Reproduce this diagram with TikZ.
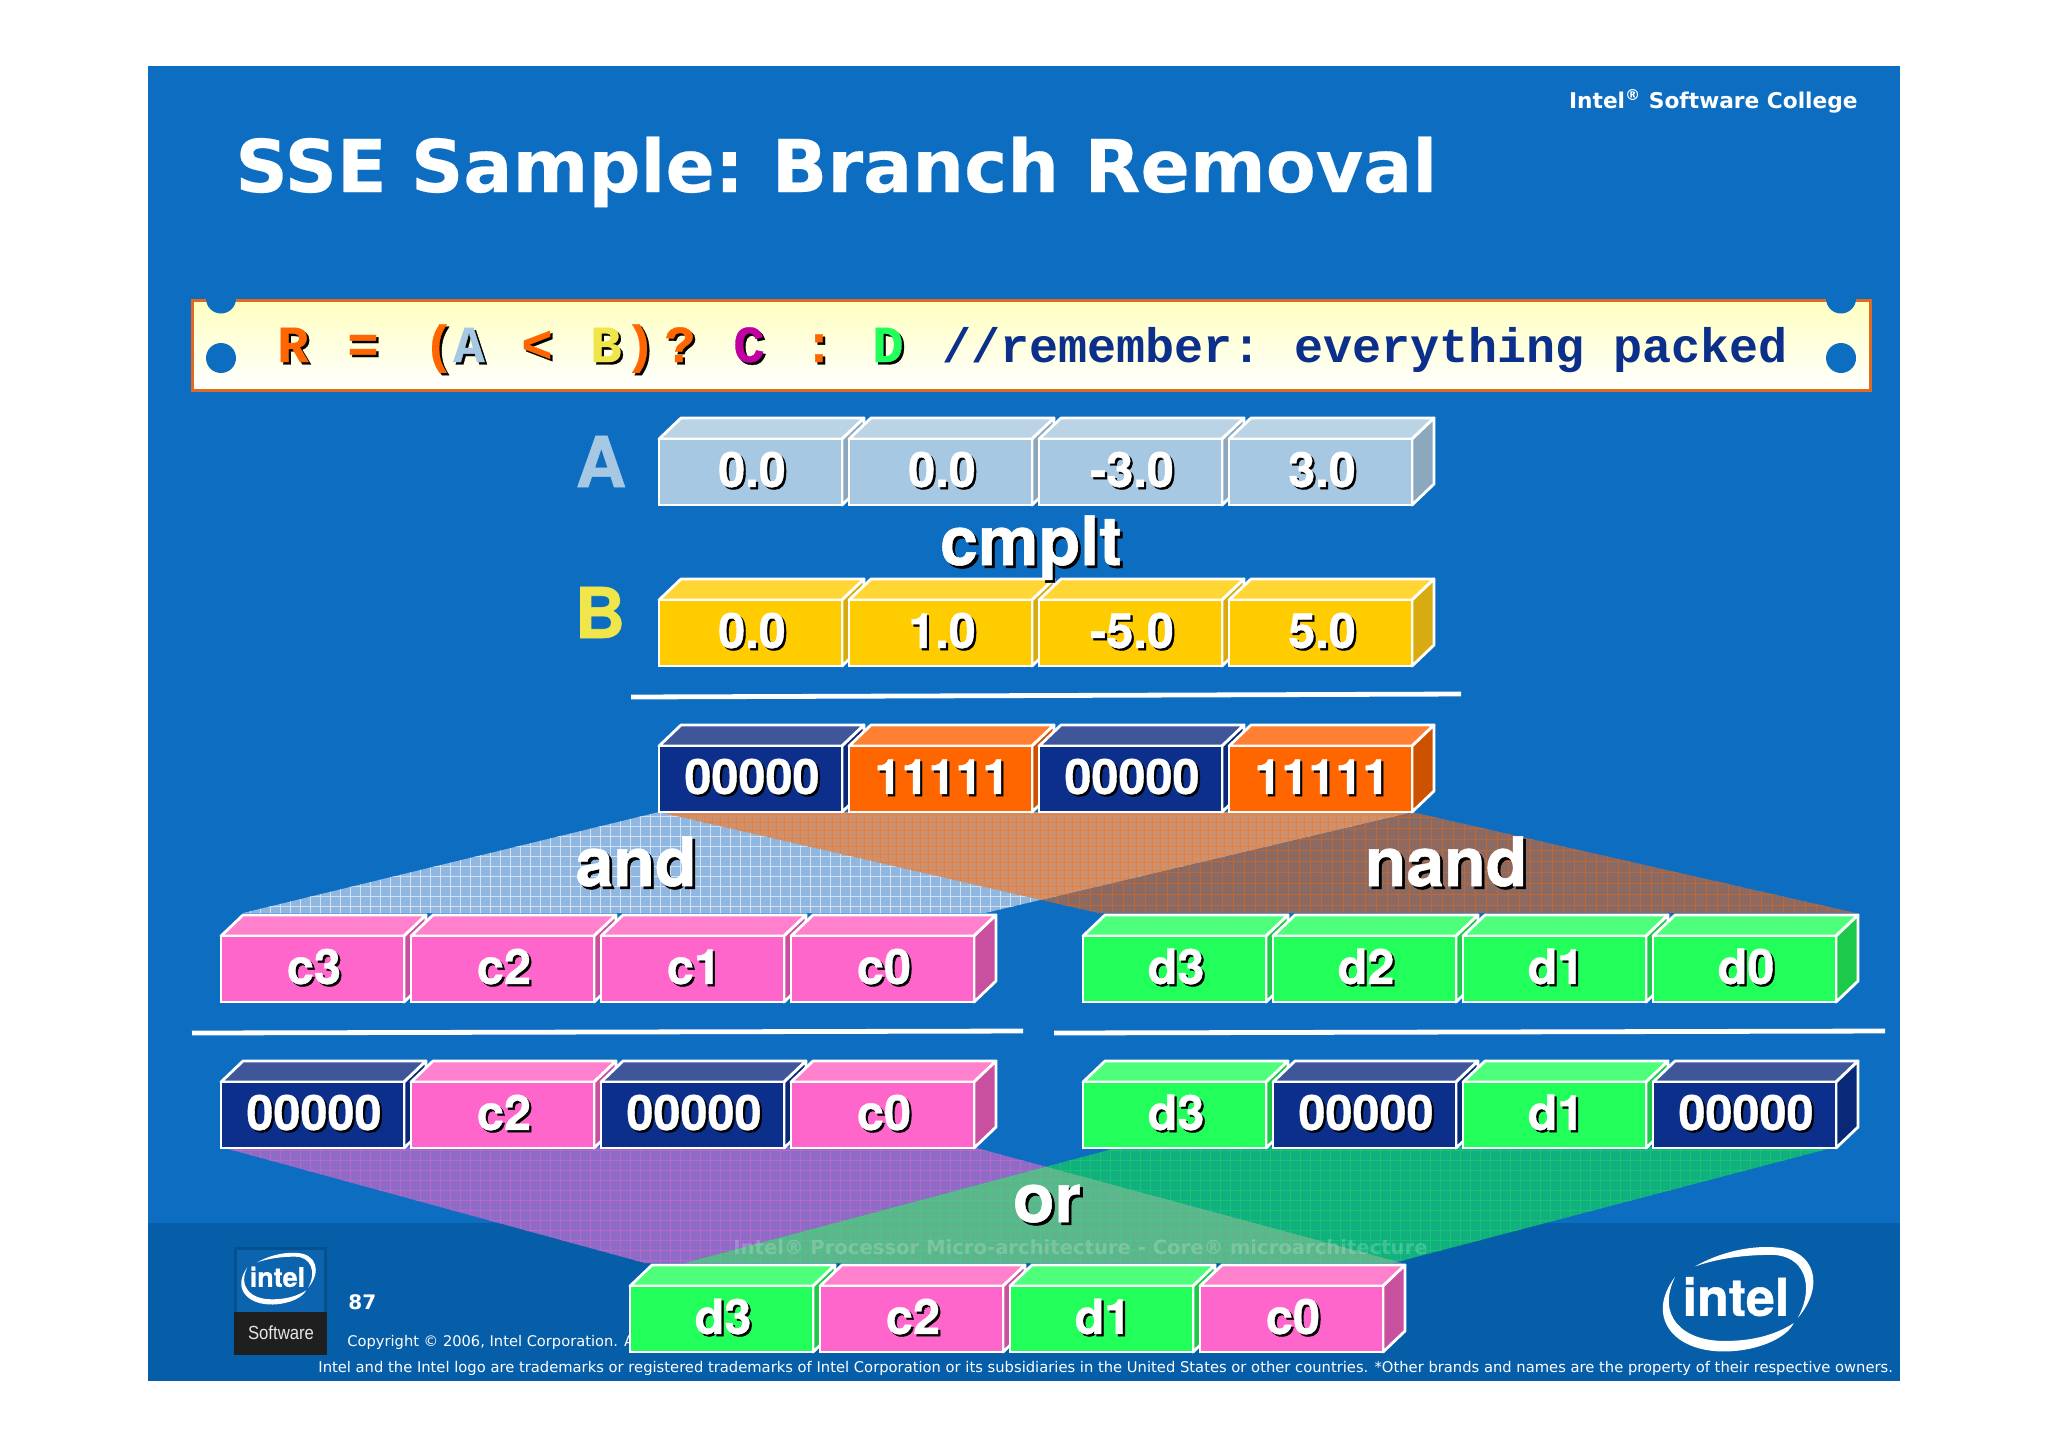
\documentclass[tikz,border=0pt]{standalone}
\usepackage{fontspec}
\setmainfont{DejaVu Sans}
\newfontfamily\lblfont[BoldFeatures={FakeBold=0.8}]{TeX Gyre Heros}
\newfontfamily\monofont{Liberation Mono Bold}
\newfontfamily\monofat[FakeBold=0.6]{Liberation Mono Bold}
\newfontfamily\titlefont[FakeBold=0.3]{DejaVu Sans Bold}
\newfontfamily\plainarial{Liberation Sans}
\definecolor{slidebg}{HTML}{0D6EC1}
\definecolor{footbg}{HTML}{065EA8}
\definecolor{bluecF}{HTML}{A6C8E2}\definecolor{bluecT}{HTML}{BAD4E6}\definecolor{bluecS}{HTML}{8CA8BF}
\definecolor{yellowcF}{HTML}{FFCC00}\definecolor{yellowcT}{HTML}{FFD633}\definecolor{yellowcS}{HTML}{D8AC10}
\definecolor{navycF}{HTML}{0B2F8A}\definecolor{navycT}{HTML}{3F569B}\definecolor{navycS}{HTML}{0A2878}
\definecolor{orangecF}{HTML}{FF6600}\definecolor{orangecT}{HTML}{FF7F33}\definecolor{orangecS}{HTML}{CC5200}
\definecolor{pinkcF}{HTML}{FF66CC}\definecolor{pinkcT}{HTML}{FF80CC}\definecolor{pinkcS}{HTML}{C9509E}
\definecolor{greencF}{HTML}{22FF5A}\definecolor{greencT}{HTML}{4DFF7A}\definecolor{greencS}{HTML}{1CC94A}
\definecolor{barline}{HTML}{E06A20}
\definecolor{barorange}{HTML}{FF6600}
\definecolor{barmag}{HTML}{C000A0}
\definecolor{barB}{HTML}{F0E64A}
\definecolor{bluepoly}{HTML}{8FB7DF}
\definecolor{brownpoly}{HTML}{8A6A62}
\definecolor{salmonpoly}{HTML}{D0906C}
\definecolor{purplepoly}{HTML}{8E6BC6}
\definecolor{greenpoly}{HTML}{12B07E}
\definecolor{graygreen}{HTML}{5CB58C}
\newcommand\shad[2][1.1pt]{\makebox[0pt][l]{\kern#1\raisebox{-#1}{\color{black}#2}}#2}
\newcommand\cell[5]{%
  \filldraw[cellline,fill=#4T] (#2,#3) -- ++(22,-21) -- ++(183,0) -- ++(-22,21) -- cycle;
  \filldraw[cellline,fill=#4S] (#2,#3) ++(183,0) -- ++(22,-21) -- ++(0,66) -- ++(-22,21) -- cycle;
  \node[cellface,fill=#4F] (#1) at ({#2+91.5},{#3+33}) {\kern1.5pt\shad{#5}};
}
\newcommand\barch[4]{\node[barchar] (#1) at (#2,362) {\color{#3}\shad[1.2pt]{#4}};}
\newcommand\gridlines[6]{% x0 x1 y0 y1 step style
  \draw[#6] foreach \gi in {#1,\the\numexpr#1+#5\relax,...,#2} {(\gi,#3) -- (\gi,#4)};
  \draw[#6] foreach \gi in {#3,\the\numexpr#3+#5\relax,...,#4} {(#1,\gi) -- (#2,\gi)};
}
\newcommand\intelswoosh[3]{%
  \begin{scope}[#2]
    \fill[white] (1678,1278) .. controls (1650,1315) and (1675,1350) .. (1727,1349) .. controls (1760,1348) and (1785,1335) .. (1791,1322) .. controls (1775,1332) and (1755,1339) .. (1725,1339) .. controls (1685,1339) and (1660,1315) .. (1678,1278) -- cycle;
    \fill[white] (1697,1268) .. controls (1725,1252) and (1755,1248) .. (1775,1250) .. controls (1810,1252) and (1822,1285) .. (1795,1317) .. controls (1812,1285) and (1800,1257) .. (1770,1257) .. controls (1745,1257) and (1720,1260) .. (1697,1268) -- cycle;
    \node[anchor=base,text=white,inner sep=0pt,font=\fontsize{#3}{#3}\selectfont\lblfont\bfseries] (logo#1) at (1736,1315) {intel};
  \end{scope}}
\tikzset{
  cellline/.style={draw=white,line width=1.4pt,line join=round},
  cellface/.style={draw=white,line width=1.4pt,minimum width=91.5pt,minimum height=33pt,inner sep=0pt,
    text=white,text height=17.5pt,text depth=2.6pt,font=\fontsize{24.3}{24.3}\selectfont\lblfont\bfseries},
  oplabel/.style={anchor=base,inner sep=0pt,text=white,font=\fontsize{34}{34}\selectfont\lblfont\bfseries},
  barchar/.style={anchor=base,inner sep=0pt,font=\fontsize{26}{26}\selectfont\monofat},
  rulebar/.style={draw=white,line width=2.4pt},
  gridl/.style={line width=0.45pt}
}
\begin{document}
\begin{tikzpicture}[x=0.5pt,y=-0.5pt]
\useasboundingbox (0,0) rectangle (2048,1447);
\fill[white] (0,0) rectangle (2048,1447);
% slide
\fill[slidebg] (148,66) rectangle (1900,1381);
\fill[footbg] (148,1223) rectangle (1900,1381);
\node[anchor=base west,inner sep=0pt,text=white,font=\fontsize{7.33}{7.33}\selectfont] (copy) at (347,1346) {Copyright © 2006, Intel Corporation. All rights reserved.};
% title
\node[anchor=base west,inner sep=0pt,text=white,font=\fontsize{36.4}{36.4}\selectfont\titlefont] (title) at (235,192) {SSE\hspace{-0.5pt} Sample:\hspace{-3pt} Branch Removal};
\node[anchor=base east,inner sep=0pt,text=white,font=\fontsize{10.85}{10.85}\selectfont\bfseries] (college) at (1858,108) {Intel\textsuperscript{®} Software College};
% banner
\filldraw[draw=barline,line width=1.5pt,top color=yellow!25!white,bottom color=white] (192,300) rectangle (1870,390);
\fill[slidebg] (221,358) circle (15);
\fill[slidebg] (1841,358) circle (15);
\fill[slidebg] (206,298.5) arc[start angle=180,end angle=0,radius=15] -- cycle;
\fill[slidebg] (1826,298.5) arc[start angle=180,end angle=0,radius=15] -- cycle;
\barch{bR}{293}{barorange}{R}
\barch{bEq}{363}{barorange}{=}
\barch{bLp}{439}{barorange}{(}
\barch{bA}{469}{bluecF}{A}
\barch{bLt}{537}{barorange}{<}
\barch{bB}{606}{barB}{B}
\barch{bRp}{640}{barorange}{)}
\barch{bQ}{680}{barorange}{?}
\barch{bC}{749}{barmag}{C}
\barch{bCo}{819}{barorange}{:}
\barch{bD}{888}{greencF}{D}
\node[anchor=base west,inner sep=0pt,text=navycF,font=\fontsize{24.2}{24.2}\selectfont\monofont] (comment) at (942,362) {//remember:\hspace{-3.2pt} everything packed};
% A B
\node[anchor=base,inner sep=0pt,text=bluecF,font=\fontsize{35}{35}\selectfont\lblfont\bfseries] (labA) at (601,487) {A};
\node[anchor=base,inner sep=0pt,text=barB,font=\fontsize{35}{35}\selectfont\lblfont\bfseries] (labB) at (600,638) {B};
% polygons and / nand
\fill[brownpoly] (659,812) -- (1412,812) -- (1856,913) -- (1098,913) -- cycle;
\begin{scope}
\clip (659,812) -- (1412,812) -- (1856,913) -- (1098,913) -- cycle;
\gridlines{650}{1870}{806}{920}{11}{gridl,draw=orangecF!45!brownpoly}
\end{scope}
\fill[bluepoly] (659,812) -- (1412,812) -- (985,913) -- (243,913) -- cycle;
\begin{scope}
\clip (659,812) -- (1412,812) -- (985,913) -- (243,913) -- cycle;
\gridlines{240}{1420}{806}{920}{10}{gridl,draw=white!60!bluepoly}
\clip (659,812) -- (1412,812) -- (1856,913) -- (1098,913) -- cycle;
\fill[salmonpoly] (240,806) rectangle (1420,920);
\gridlines{240}{1420}{806}{920}{8}{gridl,draw=orangecF!35!salmonpoly}
\end{scope}
% polygons or
\fill[purplepoly] (221,1147) -- (973,1147) -- (1402,1263) -- (645,1263) -- cycle;
\begin{scope}
\clip (221,1147) -- (973,1147) -- (1402,1263) -- (645,1263) -- cycle;
\gridlines{210}{1410}{1140}{1270}{10}{gridl,draw=pinkcF!35!purplepoly}
\end{scope}
\fill[greenpoly] (1120,1147) -- (1835,1147) -- (1393,1263) -- (685,1263) -- cycle;
\begin{scope}
\clip (1120,1147) -- (1835,1147) -- (1393,1263) -- (685,1263) -- cycle;
\gridlines{680}{1850}{1140}{1270}{10}{gridl,draw=greencF!25!greenpoly}
\clip (221,1147) -- (973,1147) -- (1402,1263) -- (645,1263) -- cycle;
\fill[graygreen] (680,1140) rectangle (1850,1270);
\gridlines{680}{1850}{1140}{1270}{10}{gridl,draw=greencF!20!graygreen}
\end{scope}
\node[anchor=base west,inner sep=0pt,text=white,text opacity=0.2,font=\fontsize{9.8}{9.8}\selectfont\bfseries] (center) at (733,1254) {Intel® Processor Micro-architecture - Core® microarchitecture};
% rows
\cell{a0}{659}{439}{bluec}{0.0}
\cell{a1}{849}{439}{bluec}{0.0}
\cell{a2}{1039}{439}{bluec}{-3.0}
\cell{a3}{1229}{439}{bluec}{3.0}
\cell{b0}{659}{600}{yellowc}{0.0}
\cell{b1}{849}{600}{yellowc}{1.0}
\cell{b2}{1039}{600}{yellowc}{-5.0}
\cell{b3}{1229}{600}{yellowc}{5.0}
\cell{r0}{659}{746}{navyc}{00000}
\cell{r1}{849}{746}{orangec}{11111}
\cell{r2}{1039}{746}{navyc}{00000}
\cell{r3}{1229}{746}{orangec}{11111}
\cell{c3}{221}{936}{pinkc}{c3}
\cell{c2}{411}{936}{pinkc}{c2}
\cell{c1}{601}{936}{pinkc}{c1}
\cell{c0}{791}{936}{pinkc}{c0}
\cell{d3}{1083}{936}{greenc}{d3}
\cell{d2}{1273}{936}{greenc}{d2}
\cell{d1}{1463}{936}{greenc}{d1}
\cell{d0}{1653}{936}{greenc}{d0}
\cell{m0}{221}{1082}{navyc}{00000}
\cell{m1}{411}{1082}{pinkc}{c2}
\cell{m2}{601}{1082}{navyc}{00000}
\cell{m3}{791}{1082}{pinkc}{c0}
\cell{n0}{1083}{1082}{greenc}{d3}
\cell{n1}{1273}{1082}{navyc}{00000}
\cell{n2}{1463}{1082}{greenc}{d1}
\cell{n3}{1653}{1082}{navyc}{00000}
\cell{f0}{630}{1286}{greenc}{d3}
\cell{f1}{820}{1286}{pinkc}{c2}
\cell{f2}{1010}{1286}{greenc}{d1}
\cell{f3}{1200}{1286}{pinkc}{c0}
% rules
\draw[rulebar] (631,697) -- (1461,694);
\draw[rulebar] (192,1033) -- (1023,1031);
\draw[rulebar] (1054,1033) -- (1885,1031);
% op labels
\node[oplabel] (cmplt) at (1031,565) {\shad[1.4pt]{cmplt}};
\node[oplabel] (andl) at (636,886) {\shad[1.4pt]{and}};
\node[oplabel] (nandl) at (1446,886) {\shad[1.4pt]{nand}};
\node[oplabel] (orl) at (1047,1222) {\shad[1.4pt]{or}};
% footer
\node[anchor=base west,inner sep=0pt,text=white,font=\fontsize{10}{10}\selectfont\bfseries] (pagenum) at (348,1309) {87};
\node[anchor=base west,inner sep=0pt,text=white,font=\fontsize{7.37}{7.37}\selectfont] (tm) at (318,1372) {Intel and the Intel logo are trademarks or registered trademarks of Intel Corporation or its subsidiaries in the United States or other countries. *Other brands and names are the property of their respective owners.};
% logos
\intelswoosh{big}{shift={(-86.9,-65)},scale=1.05}{26}
\fill[footbg!85!black] (234,1247) rectangle (327,1312);
\fill[slidebg!90!black] (237,1250) rectangle (324,1312);
\fill[black!88] (234,1312) rectangle (327,1355);
\intelswoosh{small}{shift={(-625.3,603)},scale=0.52}{13.5}
\node[anchor=base,inner sep=0pt,text=white!90!black,font=\fontsize{9.5}{9.5}\selectfont\plainarial] (soft) at (281,1339) {\scalebox{0.88}[1]{Software}};
\end{tikzpicture}
\end{document}
